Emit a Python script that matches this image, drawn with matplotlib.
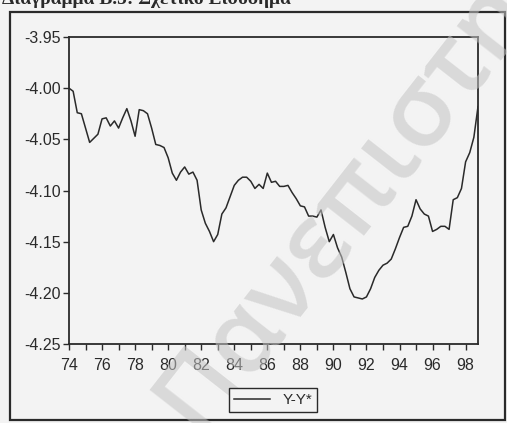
import numpy as np
import matplotlib.pyplot as plt
from matplotlib.patches import Rectangle

# quarterly series, 1974Q1 - 1998Q4
start_year = 74
values = [
    -4.000, -4.003, -4.024, -4.025, -4.039, -4.053, -4.049, -4.045,
    -4.030, -4.029, -4.037, -4.032, -4.039, -4.029, -4.020, -4.032,
    -4.047, -4.021, -4.022, -4.025, -4.039, -4.055, -4.056, -4.058,
    -4.068, -4.083, -4.090, -4.082, -4.077, -4.084, -4.082, -4.090,
    -4.119, -4.132, -4.140, -4.150, -4.143, -4.123, -4.117, -4.106,
    -4.095, -4.090, -4.087, -4.087, -4.091, -4.098, -4.094, -4.098,
    -4.083, -4.092, -4.091, -4.096, -4.096, -4.095, -4.102, -4.108,
    -4.115, -4.116, -4.125, -4.125, -4.126, -4.119, -4.136, -4.150,
    -4.143, -4.156, -4.165, -4.180, -4.196, -4.204, -4.205, -4.206,
    -4.204, -4.196, -4.185, -4.178, -4.173, -4.171, -4.167, -4.157,
    -4.146, -4.136, -4.135, -4.125, -4.109, -4.118, -4.123, -4.125,
    -4.140, -4.138, -4.135, -4.135, -4.138, -4.109, -4.107, -4.098,
    -4.072, -4.063, -4.048, -4.018,
]
series_label = "Y-Y*"
title = "Διάγραμμα Β.5: Σχετικό Εισόδημα"
watermark = "Πανεπιστη"

y_ticks = [-3.95, -4.00, -4.05, -4.10, -4.15, -4.20, -4.25]
x_ticks = list(range(74, 100, 2))

t = start_year + np.arange(len(values)) / 4

paper = "#f3f3f3"
ink = "#2a2a2a"

plt.rcParams['font.family'] = ['Liberation Sans', 'DejaVu Sans']

fig = plt.figure(figsize=(5.07, 4.23), dpi=100, facecolor=paper)

# page frame, with the caption running off the top of the page
fig.patches.append(Rectangle((10 / 507, 3 / 423), 495 / 507, 408 / 423,
                             transform=fig.transFigure, fill=False,
                             edgecolor=ink, linewidth=1.6))
fig.text(0.004, 1 - 3.5 / 423, title, fontsize=14, fontweight='bold',
         family=['Liberation Serif', 'DejaVu Serif'], color=ink,
         va='baseline', ha='left')

ax = fig.add_axes([69 / 507, 1 - 344 / 423, 409 / 507, 307 / 423])
ax.set_facecolor(paper)
ax.plot(t, values, color=ink, linewidth=1.1, label=series_label)

ax.set_xlim(74, 74 + 99 / 4)
ax.set_ylim(-4.25, -3.95)
ax.set_yticks(y_ticks)
ax.set_yticklabels([f"{v:.2f}" for v in y_ticks])
ax.set_xticks(x_ticks)
ax.set_xticklabels([str(v) for v in x_ticks])
ax.set_xticks(range(74, 99), minor=True)

for side in ax.spines.values():
    side.set_color(ink)
    side.set_linewidth(1.3)

ax.tick_params(axis='both', direction='out', length=4, width=1,
               colors=ink, labelsize=11.5, pad=2)
ax.tick_params(axis='x', which='major', pad=6)
ax.tick_params(axis='x', which='minor', direction='out', length=4, width=1,
               colors=ink)

fig.legend(loc='center', bbox_to_anchor=(273 / 507, 1 - 400 / 423),
           fontsize=11, frameon=True, fancybox=False, edgecolor=ink,
           facecolor=paper, framealpha=1, handlelength=2.4,
           borderpad=0.3, labelcolor=ink)

fig.text(345 / 507, 1 - 205 / 423, watermark, fontsize=74, color="#c4c4c4",
         alpha=0.55, rotation=52, ha='center', va='center',
         fontweight='semibold', rotation_mode='anchor',
         family=['Open Sans', 'DejaVu Sans'])

fig.savefig("out.png", dpi=100, facecolor=paper)
